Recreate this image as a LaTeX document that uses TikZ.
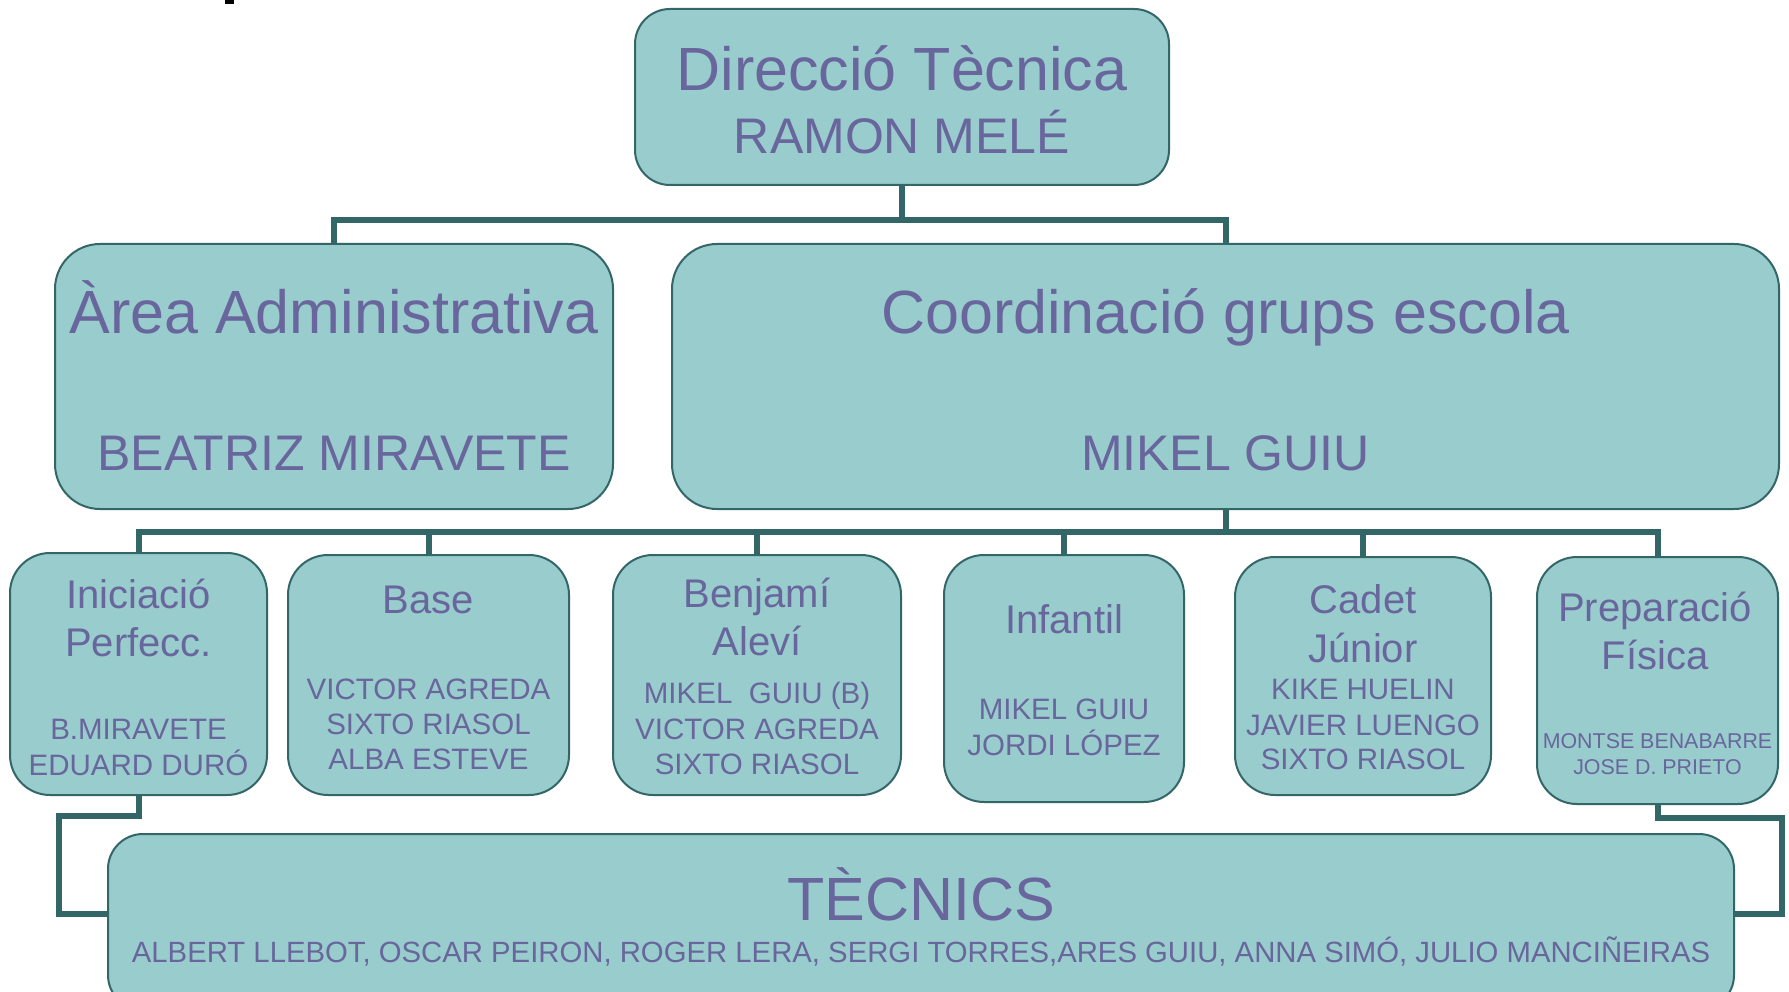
\documentclass[tikz,border=0pt]{standalone}
\usepackage{fontspec}
\setmainfont{Liberation Sans}
\definecolor{boxfill}{RGB}{153,204,204}
\definecolor{boxline}{RGB}{51,102,102}
\definecolor{txtcol}{RGB}{104,102,156}
\begin{document}
\begin{tikzpicture}[x=1pt,y=-1pt,
  box/.style={draw=boxline, fill=boxfill, line width=2pt, rounded corners=#1, inner sep=0pt, outer sep=0pt},
  conn/.style={draw=boxline, line width=6pt},
  fs/.style={font=\fontsize{#1}{#1}\selectfont, text=txtcol, anchor=base, inner sep=0pt}]
\clip (0,0) rectangle (1789,992);
\fill[white] (0,0) rectangle (1789,992);
\fill[black] (225,0) rectangle (234,4);
% boxes
\node[box=35pt, minimum width=534pt, minimum height=176pt] (top) at (902,97) {};
\node[box=45pt, minimum width=558pt, minimum height=265pt] (area) at (334,376.5) {};
\node[box=45pt, minimum width=1107pt, minimum height=265pt] (coord) at (1225.5,376.5) {};
\node[box=40pt, minimum width=257pt, minimum height=242pt] (b1) at (138.5,674) {};
\node[box=40pt, minimum width=281pt, minimum height=240pt] (b2) at (428.5,675) {};
\node[box=40pt, minimum width=288pt, minimum height=240pt] (b3) at (757,675) {};
\node[box=40pt, minimum width=240pt, minimum height=247pt] (b4) at (1064,678.5) {};
\node[box=40pt, minimum width=256pt, minimum height=238pt] (b5) at (1363,676) {};
\node[box=40pt, minimum width=241pt, minimum height=247pt] (b6) at (1657.5,680.5) {};
\node[box=35pt, minimum width=1626pt, minimum height=176pt] (tec) at (921,922) {};
% connector coordinates
\coordinate (ytop) at (0,220);
\coordinate (ybus) at (0,532);
\coordinate (yl) at (0,914);
\coordinate (lk) at (59,816);
\coordinate (rk) at (1782,818);
\draw[conn] (top.south) -- (top.south |- ytop) -| (area.north);
\draw[conn] (top.south |- ytop) -| (coord.north);
\draw[conn] (coord.south) -- (coord.south |- ybus);
\draw[conn] (b1.north) |- (b6.north |- ybus) -- (b6.north);
\foreach \b in {b2,b3,b4,b5} \draw[conn] (\b.north |- ybus) -- (\b.north);
\draw[conn] (b1.south) |- (lk) |- (tec.west |- yl);
\draw[conn] (b6.south) |- (rk) |- (tec.east |- yl);
% texts
\node[fs=61] (t1) at (902,91) {Direcció Tècnica};
\node[fs=50] (t2) at (902,154) {RAMON MELÉ};
\node[fs=61] (a1) at (334,334) {Àrea Administrativa};
\node[fs=50] (a2) at (334,470) {BEATRIZ MIRAVETE};
\node[fs=61] (c1) at (1225.5,334) {Coordinació grups escola};
\node[fs=50] (c2) at (1225.5,470) {MIKEL GUIU};
\node[fs=40] (b1a) at (138.5,608) {Iniciació};
\node[fs=40] (b1b) at (138.5,656) {Perfecc.};
\node[fs=29.5] (b1c) at (138.5,739) {B.MIRAVETE};
\node[fs=29.5] (b1d) at (138.5,775) {EDUARD DURÓ};
\node[fs=40] (b2a) at (428.5,613) {Base};
\node[fs=29.5] (b2b) at (428.5,699) {VICTOR AGREDA};
\node[fs=29.5] (b2c) at (428.5,734) {SIXTO RIASOL};
\node[fs=29.5] (b2d) at (428.5,769) {ALBA ESTEVE};
\node[fs=40] (b3a) at (757,607) {Benjamí};
\node[fs=40] (b3b) at (757,655) {Aleví};
\node[fs=29.5] (b3c) at (757,703) {MIKEL~\ GUIU (B)};
\node[fs=29.5] (b3d) at (757,739) {VICTOR AGREDA};
\node[fs=29.5] (b3e) at (757,774) {SIXTO RIASOL};
\node[fs=40] (b4a) at (1064,633) {Infantil};
\node[fs=29.5] (b4b) at (1064,719) {MIKEL GUIU};
\node[fs=29.5] (b4c) at (1064,755) {JORDI LÓPEZ};
\node[fs=40] (b5a) at (1363,613) {Cadet};
\node[fs=40] (b5b) at (1363,662) {Júnior};
\node[fs=29.5] (b5c) at (1363,699) {KIKE HUELIN};
\node[fs=29.5] (b5d) at (1363,735) {JAVIER LUENGO};
\node[fs=29.5] (b5e) at (1363,769) {SIXTO RIASOL};
\node[fs=40] (b6a) at (1655,621) {Preparació};
\node[fs=40] (b6b) at (1655,669) {Física};
\node[fs=21.4] (b6c) at (1657.5,748) {MONTSE BENABARRE};
\node[fs=21.4] (b6d) at (1657.5,774) {JOSE D. PRIETO};
\node[fs=61] (tc1) at (921,920) {TÈCNICS};
\node[fs=29.3] (tc2) at (921,962) {ALBERT LLEBOT, OSCAR PEIRON, ROGER LERA, SERGI TORRES,ARES GUIU, ANNA SIMÓ, JULIO MANCIÑEIRAS};
\end{tikzpicture}
\end{document}
